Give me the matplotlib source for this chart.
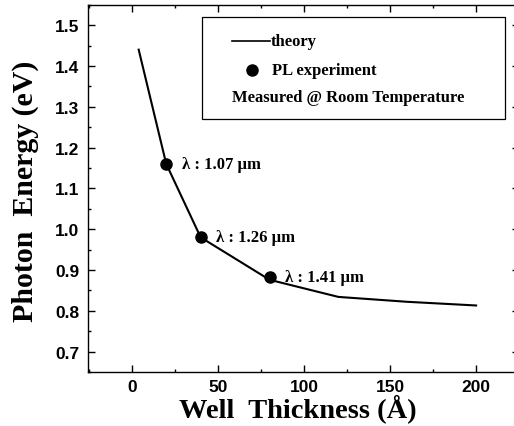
import matplotlib
matplotlib.use("Agg")
import matplotlib.pyplot as plt
from matplotlib.patches import Rectangle
from matplotlib.lines import Line2D

# theory curve: well thickness (A) vs photon energy (eV)
theory_x = [4, 20, 40, 80, 120, 160, 200]
theory_y = [1.44, 1.16, 0.98, 0.876, 0.834, 0.822, 0.813]

# PL measurements
pl_x = [20, 40, 80]
pl_y = [1.16, 0.98, 0.884]
pl_labels = ["\u03bb : 1.07 \u03bcm", "\u03bb : 1.26 \u03bcm", "\u03bb : 1.41 \u03bcm"]

x_ticks = [0, 50, 100, 150, 200]
y_ticks = [0.7, 0.8, 0.9, 1.0, 1.1, 1.2, 1.3, 1.4, 1.5]

serif = ['Liberation Serif', 'DejaVu Serif']
sans = ['Liberation Sans', 'DejaVu Sans']

fig = plt.figure(figsize=(5.14, 4.27), dpi=100)
ax = fig.add_axes([0.171, 0.1265, 0.839, 0.86])

ax.plot(theory_x, theory_y, color='black', lw=1.5)
ax.plot(pl_x, pl_y, 'o', color='black', ms=8, ls='none')

for x, y, lab in zip(pl_x, pl_y, pl_labels):
    ax.annotate(lab, (x, y), xytext=(11, 0), textcoords='offset points',
                va='center', ha='left', fontsize=12, fontweight='bold',
                family=serif)

ax.set_xlim(-25.5, 225)
ax.set_ylim(0.65, 1.55)
ax.set_xticks(x_ticks)
ax.set_yticks(y_ticks)
ax.set_xticks([-25, 25, 75, 125, 175, 225], minor=True)
ax.set_yticks([0.65, 0.75, 0.85, 0.95, 1.05, 1.15, 1.25, 1.35, 1.45, 1.55], minor=True)
ax.set_yticklabels(["%.1f" % v for v in y_ticks])

ax.tick_params(which='both', direction='in', top=True, right=True, width=1.0)
ax.tick_params(which='major', length=5, labelsize=12.5)
ax.tick_params(axis='x', which='major', pad=5)
ax.tick_params(axis='y', which='major', pad=6)
ax.tick_params(which='minor', length=2.5)
for lab in ax.get_xticklabels() + ax.get_yticklabels():
    lab.set_family(sans)
    lab.set_fontweight('bold')
for s in ax.spines.values():
    s.set_linewidth(1.0)

ax.set_xlabel("Well  Thickness (\u00c5)", fontsize=20.5, fontweight='bold',
              family=serif)
ax.set_ylabel("Photon  Energy (eV)", fontsize=21.5, fontweight='bold',
              family=serif)
ax.xaxis.set_label_coords(0.487, -0.059)
ax.yaxis.set_label_coords(-0.114, 0.496)

# legend box drawn by hand
tr = ax.transAxes
ax.add_patch(Rectangle((0.2645, 0.689), 0.703, 0.278, transform=tr,
                       fill=False, lw=0.9, color='black'))
ax.add_line(Line2D([0.334, 0.422], [0.902, 0.902], transform=tr,
                   color='black', lw=1.2))
ax.text(0.424, 0.902, "theory", transform=tr, va='center', ha='left',
        fontsize=12, fontweight='bold', family=serif)
ax.add_line(Line2D([0.3805], [0.822], transform=tr, marker='o', ms=8,
                   color='black', ls='none'))
ax.text(0.427, 0.822, "PL experiment", transform=tr, va='center', ha='left',
        fontsize=12, fontweight='bold', family=serif)
ax.text(0.334, 0.749, "Measured @ Room Temperature", transform=tr,
        va='center', ha='left', fontsize=12, fontweight='bold', family=serif)

fig.savefig("out.png", dpi=100)
